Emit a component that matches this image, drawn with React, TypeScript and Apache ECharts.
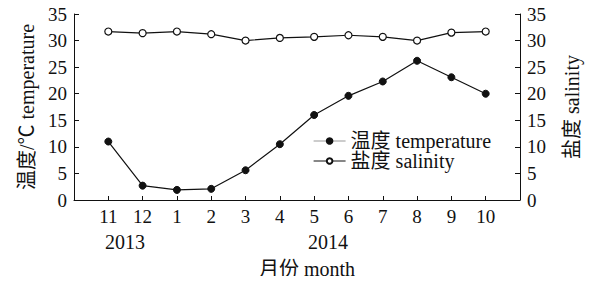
import React, { useEffect, useRef } from "react";
import * as echarts from "echarts";

const months = ["11", "12", "1", "2", "3", "4", "5", "6", "7", "8", "9", "10"];
const temperature = [11.0, 2.7, 1.9, 2.1, 5.6, 10.5, 16.0, 19.6, 22.3, 26.2, 23.1, 20.0];
const salinity = [31.7, 31.4, 31.7, 31.2, 30.0, 30.5, 30.7, 31.0, 30.7, 30.0, 31.5, 31.7];
const yTicks = [0, 5, 10, 15, 20, 25, 30, 35];

const FONT = "'Liberation Serif', 'Noto Sans CJK SC', serif";
const INK = "#111";

export default function App() {
  const ref = useRef<HTMLDivElement>(null);
  useEffect(() => {
    if (!ref.current) return;
    const chart = echarts.init(ref.current, undefined, { renderer: "svg" });
    const yAxisBase = (pos: "left" | "right", name: string, gap: number) => ({
      type: "value",
      position: pos,
      min: yTicks[0],
      max: yTicks[yTicks.length - 1],
      interval: 5,
      name,
      nameLocation: "middle",
      nameRotate: 90,
      nameGap: gap,
      nameTextStyle: { fontFamily: FONT, fontSize: 20, color: INK },
      axisLine: { show: true, lineStyle: { color: INK, width: 1 } },
      axisTick: { show: true, inside: true, length: 5, lineStyle: { color: INK } },
      axisLabel: { fontFamily: FONT, fontSize: 19, color: INK, margin: 7 },
      splitLine: { show: false },
    });
    chart.setOption({
      animation: false,
      backgroundColor: "#fff",
      textStyle: { fontFamily: FONT, color: INK },
      grid: { left: 74, right: 74, top: 14, bottom: 84, containLabel: false },
      xAxis: {
        type: "value",
        min: 0,
        max: months.length + 1,
        interval: 1,
        axisLine: { show: true, onZero: false, lineStyle: { color: INK, width: 1 } },
        axisTick: { show: true, inside: true, length: 4, lineStyle: { color: INK } },
        axisLabel: {
          fontFamily: FONT,
          fontSize: 19,
          color: INK,
          margin: 7,
          formatter: (v: number) => (v >= 1 && v <= months.length ? months[v - 1] : ""),
        },
        splitLine: { show: false },
      },
      yAxis: [yAxisBase("left", "温度/℃ temperature", 34), yAxisBase("right", "盐度 salinity", 42)],
      legend: {
        orient: "vertical",
        left: 308,
        top: 126,
        itemWidth: 32,
        itemHeight: 7,
        itemGap: 0,
        textStyle: { fontFamily: FONT, fontSize: 20, color: INK, lineHeight: 17 },
        data: [
          { name: "温度 temperature", lineStyle: { color: "#999", width: 1 } },
          { name: "盐度 salinity", lineStyle: { color: INK, width: 1.2 } },
        ],
      },
      graphic: [
        { type: "text", x: 125, y: 242, style: { text: "2013", align: "center", verticalAlign: "middle", fontFamily: FONT, fontSize: 20, fill: INK } },
        { type: "text", x: 328, y: 242, style: { text: "2014", align: "center", verticalAlign: "middle", fontFamily: FONT, fontSize: 20, fill: INK } },
        { type: "text", x: 307, y: 269, style: { text: "月份 month", align: "center", verticalAlign: "middle", fontFamily: FONT, fontSize: 20, fill: INK } },
      ],
      series: [
        {
          name: "温度 temperature",
          type: "line",
          yAxisIndex: 0,
          data: temperature.map((v, i) => [i + 1, v]),
          symbol: "circle",
          symbolSize: 7,
          lineStyle: { color: INK, width: 1.2 },
          itemStyle: { color: INK, borderColor: INK, borderWidth: 1 },
        },
        {
          name: "盐度 salinity",
          type: "line",
          yAxisIndex: 1,
          data: salinity.map((v, i) => [i + 1, v]),
          symbol: "circle",
          symbolSize: 7,
          lineStyle: { color: INK, width: 1.2 },
          itemStyle: { color: "#fff", borderColor: INK, borderWidth: 1.2 },
        },
      ],
    });
    return () => chart.dispose();
  }, []);
  return <div ref={ref} style={{ width: 594, height: 284, margin: -8 }} />;
}
